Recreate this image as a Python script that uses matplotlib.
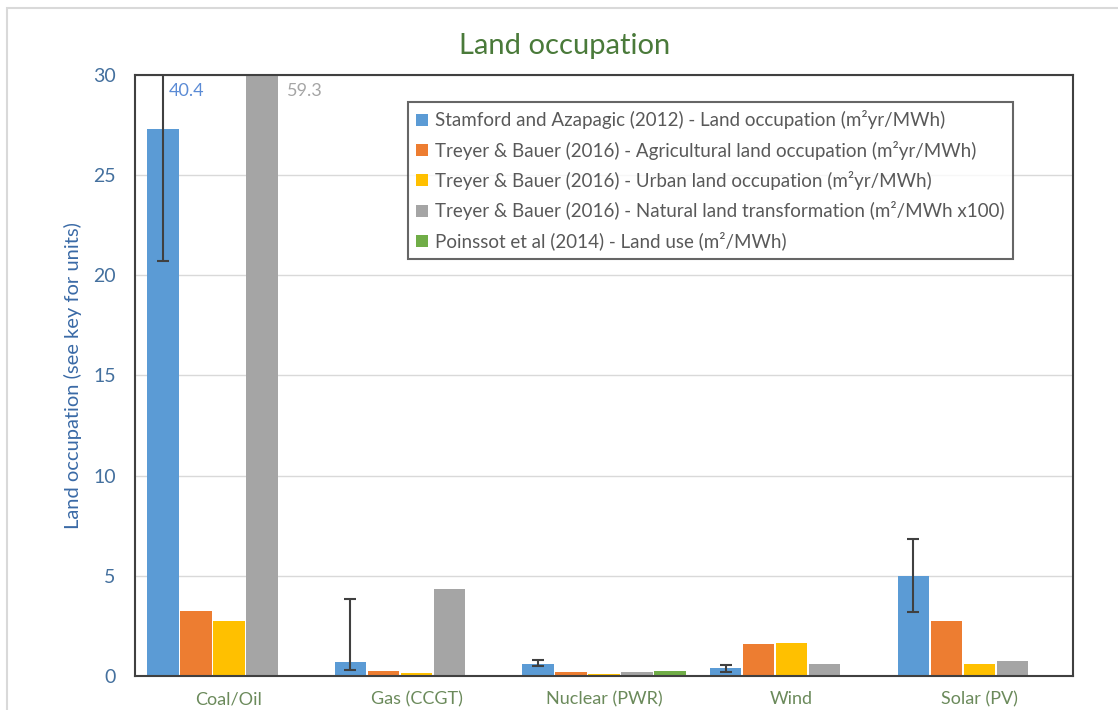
import numpy as np
import matplotlib
matplotlib.use('Agg')
import matplotlib.pyplot as plt
from matplotlib.patches import Rectangle

plt.rcParams['font.family'] = ['Lato', 'DejaVu Sans']

categories = ['Coal/Oil', 'Gas (CCGT)', 'Nuclear (PWR)', 'Wind', 'Solar (PV)']
series_names = [
    'Stamford and Azapagic (2012) - Land occupation (m²yr/MWh)',
    'Treyer & Bauer (2016) - Agricultural land occupation (m²yr/MWh)',
    'Treyer & Bauer (2016) - Urban land occupation (m²yr/MWh)',
    'Treyer & Bauer (2016) - Natural land transformation (m²/MWh x100)',
    'Poinssot et al (2014) - Land use (m²/MWh)',
]
stamford = [27.3, 0.68, 0.58, 0.42, 5.0]
stamford_low = [20.7, 0.3, 0.5, 0.2, 3.18]
stamford_high = [40.4, 3.83, 0.8, 0.53, 6.86]
agricultural = [3.25, 0.25, 0.2, 1.6, 2.75]
urban = [2.75, 0.15, 0.12, 1.65, 0.58]
natural = [59.3, 4.34, 0.18, 0.58, 0.73]
poinssot = [0, 0, 0.25, 0, 0]

colors = ['#5b9bd5', '#ed7d31', '#ffc000', '#a5a5a5', '#70ad47']

fig = plt.figure(figsize=(11.18, 7.10), dpi=100)
ax = fig.add_axes([0.1208, 0.0479, 0.839, 0.8465])

# light outer border like the spreadsheet chart area
fig.patches.append(Rectangle((7 / 1118, -0.1), 1.2, (702 / 710) + 0.1, transform=fig.transFigure,
                             fill=False, edgecolor='#d9d9d9', linewidth=1.5))

x = np.arange(len(categories))
w = 0.176
all_vals = [stamford, agricultural, urban, natural, poinssot]
for i, (vals, name) in enumerate(zip(all_vals, series_names)):
    ax.bar(x + (i - 2) * w, vals, w * 0.95, color=colors[i], label=name, zorder=2)

yerr = [np.array(stamford) - np.array(stamford_low), np.array(stamford_high) - np.array(stamford)]
ax.errorbar(x - 2 * w, stamford, yerr=yerr, fmt='none', ecolor='#404040', elinewidth=1.5,
            capsize=4, capthick=1.5, zorder=3)

# values that run off the top of the axis
ax.text(x[0] - 2 * w + 0.03, 29.6, '%.1f' % stamford_high[0], color='#5b8bd5', fontsize=13,
        va='top', ha='left')
ax.text(x[0] + 0.31, 29.6, '%.1f' % natural[0], color='#a5a5a5', fontsize=13,
        va='top', ha='left')

ax.set_ylim(0, 30)
ax.set_xlim(-0.5, len(categories) - 0.5)
ax.set_yticks(range(0, 31, 5))
ax.set_xticks(x)
ax.set_xticklabels(categories, color='#6b8a5b', fontsize=13)
ax.tick_params(axis='y', colors='#44709e', labelsize=14, length=0, pad=14)
ax.tick_params(axis='x', length=0, pad=11)
ax.yaxis.grid(True, color='#d9d9d9', linewidth=1, zorder=0)
ax.set_axisbelow(True)
for s in ax.spines.values():
    s.set_color('#404040')
    s.set_linewidth(1.5)

ax.set_ylabel('Land occupation (see key for units)', color='#3a6aa6', fontsize=14.5, labelpad=8)
fig.text(0.505, 0.935, 'Land occupation', color='#4a7a3a', fontsize=21, ha='center', va='center')

leg = ax.legend(loc='upper left', bbox_to_anchor=(0.291, 0.955), borderaxespad=0, fontsize=13.5,
                frameon=True, fancybox=False, edgecolor='#404040', handlelength=0.6,
                handleheight=0.6, handletextpad=0.4, labelspacing=0.6, borderpad=0.45)
leg.get_frame().set_linewidth(1.5)
for t in leg.get_texts():
    t.set_color('#595959')

fig.savefig('out.png', dpi=100)
